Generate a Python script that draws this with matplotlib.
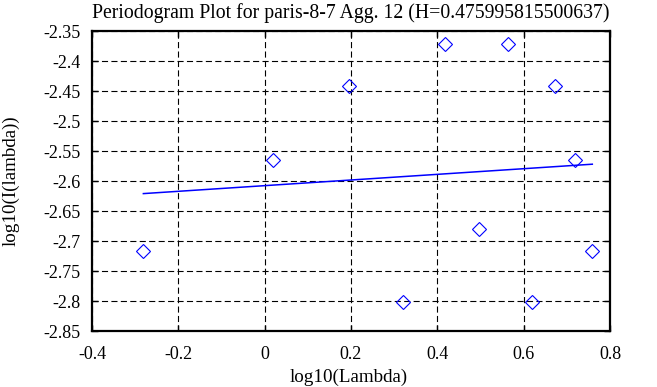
import matplotlib
matplotlib.use("Agg")
import matplotlib.pyplot as plt

# data
log_lambda = [-0.281, 0.020, 0.196, 0.321, 0.417, 0.497, 0.564, 0.620, 0.672, 0.718, 0.759]
log_I = [-2.717, -2.565, -2.441, -2.801, -2.371, -2.680, -2.371, -2.801, -2.441, -2.565, -2.717]
fit_x = [-0.281, 0.759]
fit_y = [-2.621, -2.572]
x_ticks = [-0.4, -0.2, 0, 0.2, 0.4, 0.6, 0.8]
x_labels = ["-0.4", "-0.2", "0", "0.2", "0.4", "0.6", "0.8"]
y_ticks = [-2.35, -2.4, -2.45, -2.5, -2.55, -2.6, -2.65, -2.7, -2.75, -2.8, -2.85]
y_labels = ["-2.35", "-2.4", "-2.45", "-2.5", "-2.55", "-2.6", "-2.65", "-2.7", "-2.75", "-2.8", "-2.85"]

plt.rcParams['font.family'] = ['Liberation Serif', 'DejaVu Serif']

W, H = 657, 387
L, R, T, B = 92, 610, 31, 331
fig = plt.figure(figsize=(W / 100, H / 100), dpi=100)
ax = fig.add_axes([L / W, 1 - B / H, (R - L) / W, (B - T) / H])

ax.plot(log_lambda, log_I, linestyle='none', marker='D', markersize=7,
        markerfacecolor='none', markeredgecolor='#0000ff', markeredgewidth=0.8, zorder=3)
ax.plot(fit_x, fit_y, color='#0000ff', linewidth=1.1, zorder=3)

ax.set_xlim(-0.4, 0.8)
ax.set_ylim(-2.85, -2.35)
ax.set_xticks(x_ticks)
ax.set_xticklabels(x_labels)
ax.set_yticks(y_ticks)
ax.set_yticklabels(y_labels)
ax.grid(True, color='black', linestyle=(0, (5.5, 3)), linewidth=0.8)
ax.tick_params(direction='in', top=True, right=True, length=4, width=1,
               labelsize=13)
ax.tick_params(axis='x', pad=11)
ax.tick_params(axis='y', pad=8)
for s in ax.spines.values():
    s.set_linewidth(1.6)

ax.set_title("Periodogram Plot for paris-8-7 Agg. 12 (H=0.475995815500637)",
             fontsize=14.2, y=(B - 18) / (B - T), pad=0)
ax.set_xlabel("log10(Lambda)", fontsize=13.7, va='baseline')
ax.xaxis.set_label_coords((349 - L) / (R - L), (B - 381.5) / (B - T))
ax.set_ylabel("log10(I(lambda))", fontsize=13.7, va='center', ha='center')
ax.yaxis.set_label_coords((10.5 - L) / (R - L), 0.5)

fig.savefig("out.png", dpi=100)
